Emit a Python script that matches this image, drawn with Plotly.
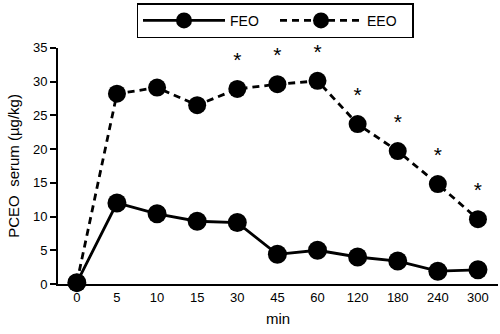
import plotly.graph_objects as go

categories = ["0", "5", "10", "15", "30", "45", "60", "120", "180", "240", "300"]
feo = [0.2, 12.0, 10.4, 9.3, 9.1, 4.4, 5.0, 4.0, 3.4, 1.9, 2.1]
eeo = [0.2, 28.2, 29.1, 26.5, 28.9, 29.6, 30.1, 23.7, 19.7, 14.8, 9.6]
significant = [False, False, False, False, True, True, True, True, True, True, True]
star_offset = 4.0

xi = list(range(len(categories)))
fig = go.Figure()
fig.add_trace(go.Scatter(x=xi, y=feo, name="FEO", mode="lines+markers",
                         line=dict(color="black", width=2.8),
                         marker=dict(color="black", size=19), cliponaxis=False))
fig.add_trace(go.Scatter(x=xi, y=eeo, name="EEO", mode="lines+markers",
                         line=dict(color="black", width=2.8, dash="7px,5px"),
                         marker=dict(color="black", size=18), cliponaxis=False))

sx = [i for i, s in zip(xi, significant) if s]
sy = [v + star_offset for v, s in zip(eeo, significant) if s]
fig.add_trace(go.Scatter(x=sx, y=sy, mode="text", text=["*"] * len(sx),
                         textfont=dict(size=21, color="black", family="Liberation Sans"),
                         showlegend=False, cliponaxis=False, hoverinfo="skip"))

fig.update_layout(
    width=500, height=334,
    margin=dict(l=58, r=2, t=46, b=50),
    paper_bgcolor="white", plot_bgcolor="white",
    font=dict(family="Liberation Sans, Arial, sans-serif", color="black", size=13),
    showlegend=True,
    legend=dict(orientation="h", x=0.55, xanchor="center", xref="container",
                y=0.99, yanchor="top", yref="container",
                bordercolor="black", borderwidth=1.5,
                itemwidth=82, entrywidth=40, font=dict(size=14)),
)
fig.update_xaxes(range=[-0.47, 10.5], tickvals=xi, ticktext=categories,
                 showline=True, linecolor="black", linewidth=2, ticks="",
                 showgrid=False, zeroline=False, tickfont=dict(size=13),
                 title=dict(text="min", font=dict(size=15), standoff=10))
fig.update_yaxes(range=[0, 35], tickvals=[0, 5, 10, 15, 20, 25, 30, 35],
                 showline=True, linecolor="black", linewidth=2, ticks="outside",
                 ticklen=6, tickwidth=2, tickcolor="black",
                 showgrid=False, zeroline=False, tickfont=dict(size=13),
                 title=dict(text="PCEO  serum (µg/kg)", font=dict(size=15), standoff=10))
fig.write_html("out.html", config={"displayModeBar": False},
               post_script="document.body.style.margin='0';")
